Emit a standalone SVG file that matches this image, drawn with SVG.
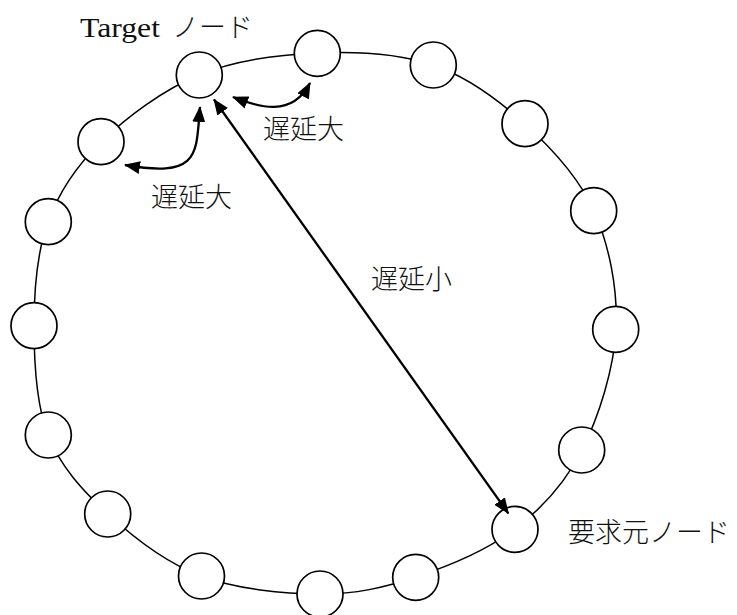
<svg xmlns="http://www.w3.org/2000/svg" width="737" height="615" viewBox="0 0 737 615">
<style>
.ring{fill:none;stroke:#000;stroke-width:1.5}
.node{fill:#fff;stroke:#000;stroke-width:1.7}
.arr{fill:none;stroke:#000;stroke-width:2.3}
.lbl{font-family:"Liberation Serif","Noto Sans CJK JP",serif;font-size:27px;font-weight:300;fill:#111}
.lat{font-family:"Liberation Serif",serif;font-size:28px;font-weight:normal}
</style>
<defs>
<marker id="ah" viewBox="0 0 16 13" refX="15" refY="6.5" markerWidth="16" markerHeight="13" markerUnits="userSpaceOnUse" orient="auto-start-reverse">
<path d="M0,0 L16,6.5 L0,13 z" fill="#000"/>
</marker>
</defs>
<g id="ring-line">
<path class="ring" d="M317,53 C356,51.3 398.3,53.2 433,65 C467.7,76.8 498.2,99.7 525,124 C551.8,148.3 578.8,176.8 594,211 C609.2,245.2 618,289.2 616,329 C614,368.8 598.8,416.7 582,450 C565.2,483.3 542.7,507.8 515,529 C487.3,550.2 448.5,566.2 416,577 C383.5,587.8 355.8,594.2 320,594 C284.2,593.8 236.3,589.3 201,576 C165.7,562.7 133.5,537.5 108,514 C82.5,490.5 60.3,466.3 48,435 C35.7,403.7 34,361.5 34,326 C34,290.5 36.8,252.7 48,222 C59.2,191.3 75.8,166.5 101,142 C126.2,117.5 163,89.8 199,75 C235,60.2 278,54.7 317,53 Z"/>
</g>
<g id="nodes">
<circle id="n1" class="node" cx="317.3" cy="53.3" r="23"/>
<circle id="n2" class="node" cx="433.3" cy="65" r="23"/>
<circle id="n3" class="node" cx="525" cy="123.7" r="23"/>
<circle id="n4" class="node" cx="593.7" cy="210.7" r="23"/>
<circle id="n5" class="node" cx="615.7" cy="329.3" r="23"/>
<circle id="n6" class="node" cx="581.7" cy="450" r="23"/>
<circle id="requester" class="node" cx="515" cy="529.3" r="23"/>
<circle id="n8" class="node" cx="415.7" cy="577.3" r="23"/>
<circle id="n9" class="node" cx="320" cy="594" r="23"/>
<circle id="n10" class="node" cx="201.5" cy="576" r="23"/>
<circle id="n11" class="node" cx="107.7" cy="514" r="23"/>
<circle id="n12" class="node" cx="48.3" cy="435" r="23"/>
<circle id="n13" class="node" cx="34" cy="325.7" r="23"/>
<circle id="n14" class="node" cx="48.3" cy="221.7" r="23"/>
<circle id="n15" class="node" cx="101" cy="141.7" r="23"/>
<circle id="target" class="node" cx="199.3" cy="75" r="23"/>
</g>
<g id="connectors">
<line class="arr" x1="214" y1="99.5" x2="508.3" y2="513.3" marker-start="url(#ah)" marker-end="url(#ah)"/>
<path class="arr" d="M200,107 C196,155 200,178 125,165" marker-start="url(#ah)" marker-end="url(#ah)"/>
<path class="arr" d="M233,97 C258,107 292,118 310,83" marker-start="url(#ah)" marker-end="url(#ah)"/>
</g>
<g id="labels">
<text class="lbl" x="80" y="37"><tspan class="lat" textLength="80" lengthAdjust="spacingAndGlyphs">Target</tspan> <tspan x="172">ノード</tspan></text>
<text class="lbl" x="263" y="139">遅延大</text>
<text class="lbl" x="151" y="207">遅延大</text>
<text class="lbl" x="371" y="289">遅延小</text>
<text class="lbl" x="568" y="542">要求元ノード</text>
</g>
</svg>
